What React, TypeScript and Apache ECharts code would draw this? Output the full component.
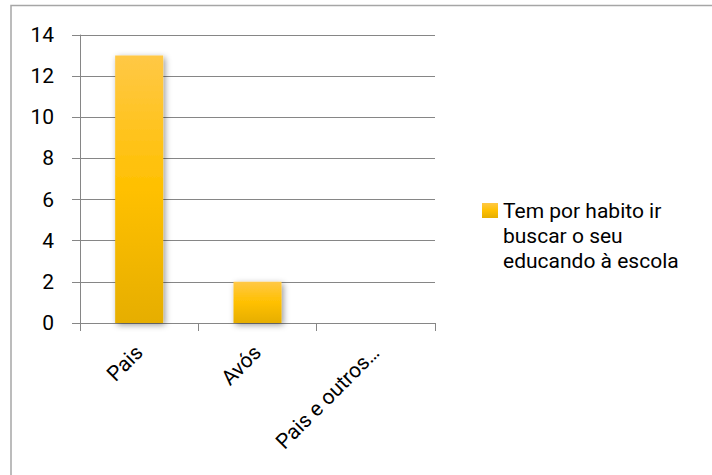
import React, { useEffect, useRef } from "react";
import * as echarts from "echarts";

const categories = ["Pais", "Avós", "Pais e outros…"];
const seriesName = "Tem por habito ir buscar o seu educando à escola";
const values = [13, 2, 0];
const legendLines = ["Tem por habito ir", "buscar o seu", "educando à escola"];

const FONT = "Roboto";

export default function App() {
  const ref = useRef<HTMLDivElement>(null);
  useEffect(() => {
    if (!ref.current) return;
    const chart = echarts.init(ref.current, undefined, { renderer: "svg" });
    chart.setOption({
      animation: false,
      backgroundColor: "#ffffff",
      textStyle: { fontFamily: FONT },
      graphic: [
        {
          type: "rect",
          shape: { x: 11, y: 5.5, width: 720, height: 490 },
          style: { fill: "none", stroke: "#a6a6a6", lineWidth: 1.5 },
          silent: true,
        },
      ],
      grid: { left: 80, right: 277, top: 35, bottom: 152, containLabel: false },
      legend: {
        left: 477,
        top: 143,
        itemWidth: 16,
        itemHeight: 15,
        itemGap: 0,
        icon: "rect",
        formatter: () => "\n\n" + legendLines.join("\n"),
        textStyle: {
          fontFamily: FONT,
          fontSize: 21,
          color: "#000",
          lineHeight: 25,
        },
      },
      xAxis: {
        type: "category",
        data: categories,
        axisLine: { show: true, lineStyle: { color: "#868686", width: 1 } },
        axisTick: { show: true, length: 8, alignWithLabel: false, lineStyle: { color: "#868686" } },
        axisLabel: {
          rotate: 45,
          interval: 0,
          margin: 26,
          fontFamily: FONT,
          fontSize: 21,
          color: "#000",
        },
      },
      yAxis: {
        type: "value",
        min: 0,
        max: 14,
        interval: 2,
        axisLine: { show: true, lineStyle: { color: "#868686", width: 1 } },
        axisTick: { show: true, length: 8, lineStyle: { color: "#868686" } },
        splitLine: { show: true, lineStyle: { color: "#868686", width: 1 } },
        axisLabel: { margin: 26, fontFamily: FONT, fontSize: 21, color: "#000" },
      },
      series: [
        {
          name: seriesName,
          type: "bar",
          data: values,
          barWidth: 48,
          itemStyle: {
            color: new echarts.graphic.LinearGradient(0, 0, 0, 1, [
              { offset: 0, color: "#FFC846" },
              { offset: 0.5, color: "#FFC000" },
              { offset: 1, color: "#E6AE00" },
            ]),
            shadowColor: "rgba(0,0,0,0.4)",
            shadowBlur: 6,
            shadowOffsetX: 2,
            shadowOffsetY: 2,
          },
        },
      ],
    });
    return () => chart.dispose();
  }, []);
  return (
    <div
      ref={ref}
      style={{ position: "absolute", left: 0, top: 0, width: 712, height: 475 }}
    />
  );
}
